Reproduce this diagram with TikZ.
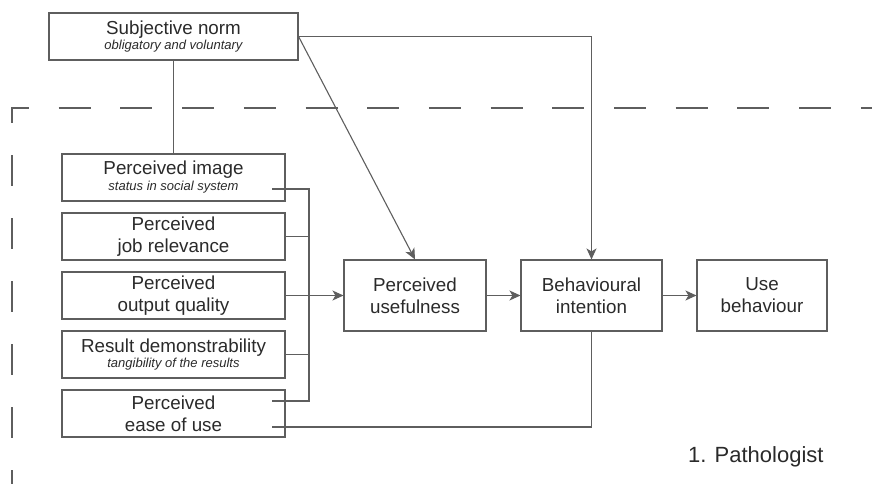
\documentclass[tikz,border=0pt]{standalone}
\usepackage{fontspec}
\setmainfont{Liberation Sans}
\usetikzlibrary{arrows.meta}
\definecolor{linec}{HTML}{5E5E5E}
\definecolor{textc}{HTML}{2A2A2A}
\newcommand\boxsub[1]{{\fontsize{13}{15}\selectfont\itshape #1}}
\begin{document}
\begin{tikzpicture}[x=1pt,y=-1pt,
  box/.style={draw=linec, line width=1.1pt, minimum height=47pt, inner sep=0pt,
    align=center, text=textc, font=\fontsize{18.8}{22}\selectfont},
  leftbox/.style={box, minimum width=223pt},
  bigbox/.style={box, minimum height=71pt},
  conn/.style={draw=linec, line width=1.1pt},
  arr/.style={conn, -{Stealth[length=11pt,width=10pt,inset=3pt]}},
  framedash/.style={draw=linec, line width=1.1pt},
]
\useasboundingbox (0,0) rectangle (872,484);

% dashed frame
\draw[framedash, dash pattern=on 32pt off 29.7pt] (12,123) -- (12,108) -- (872,108);
\draw[framedash, dash pattern=on 31pt off 32pt, dash phase=31pt] (12,123) -- (12,484);

% nodes
\node[box, minimum width=249pt] (sn) at (173.5,36.5) {Subjective norm\\[-6.5pt]\boxsub{obligatory and voluntary}};
\node[leftbox] (pi) at (173.5,177.5) {Perceived image\\[-6pt]\boxsub{status in social system}};
\node[leftbox] (jr) at (173.5,236.5) {Perceived\\job relevance};
\node[leftbox] (oq) at (173.5,295.5) {Perceived\\output quality};
\node[leftbox] (rd) at (173.5,354.5) {Result demonstrability\\[-6.5pt]\boxsub{tangibility of the results}};
\node[leftbox] (eu) at (173.5,413.5) {Perceived\\ease of use};
\node[bigbox, minimum width=142pt] (pu) at (415,295.5) {Perceived\\usefulness};
\node[bigbox, minimum width=141pt] (bi) at (591.5,295.5) {Behavioural\\intention};
\node[bigbox, minimum width=130pt] (ub) at (762,295.5) {Use\\behaviour};
\node[anchor=base west, inner sep=0pt, text=textc, font=\fontsize{22}{24}\selectfont] (lab) at (688,462) {1. Pathologist};

% coordinates
\coordinate (piout) at (272,189);
\coordinate (euout1) at (272,401);
\coordinate (euout2) at (272,427);
\coordinate (bustop) at (309,189);
\coordinate (busbot) at (309,401);
\coordinate (snturn) at (591.5,36.5);
\coordinate (biturn) at (591.5,427);

% connectors
\draw[conn] (sn.south) -- (pi.north);
\draw[arr] (sn.east) -- (snturn) -- (bi.north);
\draw[arr] (sn.east) -- (pu.north);
\draw[conn] (piout) -- (bustop) -- (busbot) -- (euout1);
\draw[conn] (jr.east) -- (jr.east -| bustop);
\draw[conn] (rd.east) -- (rd.east -| bustop);
\draw[arr] (oq.east) -- (pu.west);
\draw[arr] (pu.east) -- (bi.west);
\draw[arr] (bi.east) -- (ub.west);
\draw[conn] (bi.south) -- (biturn) -- (euout2);
\end{tikzpicture}
\end{document}
